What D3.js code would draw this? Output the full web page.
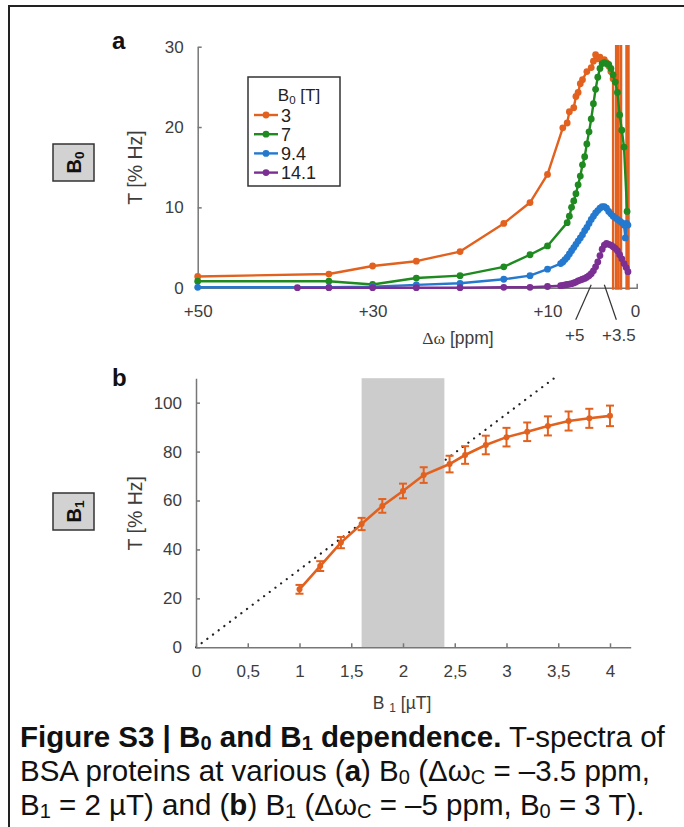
<!DOCTYPE html>
<html>
<head>
<meta charset="utf-8">
<script src="https://cdn.jsdelivr.net/npm/d3@7"></script>
<style>
  body { margin: 0; background: #fff; }
  svg { display: block; font-family: "Liberation Sans", Arial, sans-serif; }
</style>
</head>
<body>
<div id="chart"></div>
<script>
// ---- panel a : T-spectra at different B0 ----
const b0Labels = ["3", "7", "9.4", "14.1"];
const b0Colors = ["#e3611e", "#1f8a1f", "#2479cf", "#7b2f93"];

const shift3T = [50, 35, 30, 25, 20, 15, 12, 10, 8.25, 7.75, 7.5, 7.0, 6.75, 6.5, 6.25, 6.0, 5.5, 5.0, 4.75, 4.5,
                 4.25, 4.0, 3.75, 3.5, 3.25, 3.0, 2.75, 2.5, 2.4, 1.92, 1.84, 1.34, 0.58, 0.88];
const t3T = [1.4, 1.7, 2.7, 3.3, 4.5, 8.0, 10.6, 14.1, 19.9, 20.5, 21.9, 22.4, 23.8, 24.3, 25.4, 25.9, 26.9, 27.4, 28.2, 29.0,
             28.5, 28.7, 28.2, 28.4, 28.0, 27.6, 26.9, 26.0, -1000, 1000, -1000, 1000, -1000, 1000];

const shift7T = [50, 35, 30, 25, 20, 15, 12, 10, 7.75, 7.5, 7.25, 7.0, 6.75, 6.5, 6.25, 6.0, 5.75, 5.5, 5.25, 5.0,
                 4.75, 4.5, 4.25, 4.0, 3.75, 3.5, 3.25, 3.0, 2.75, 2.5, 2.25, 2.0, 1.75, 1.5, 1.25, 0.9];
const t7T = [0.8, 0.8, 0.4, 1.2, 1.5, 2.6, 4.1, 5.2, 8.1, 8.9, 10.0, 10.8, 11.7, 12.8, 13.9, 15.3, 16.3, 17.9, 19.4, 21.0,
             22.9, 24.7, 26.2, 27.3, 27.9, 28.0, 27.9, 27.8, 27.3, 26.5, 25.6, 24.3, 21.5, 19.6, 17.5, 9.5];

const shift94T = [50, 35, 30, 25, 20, 15, 12, 10, 8.5, 8.25, 8.0, 7.75, 7.5, 7.25, 7.0, 6.75, 6.5, 6.25, 6.0, 5.75,
                  5.5, 5.25, 5.0, 4.75, 4.5, 4.25, 4.0, 3.75, 3.5, 3.25, 3.0, 2.75, 2.5, 2.25, 2.0, 1.75, 1.5, 1.25,
                  1.1, 0.95, 0.8];
const t94T = [0.05, 0.05, 0.12, 0.35, 0.55, 1.05, 1.5, 2.3, 3.0, 3.2, 3.5, 3.8, 4.2, 4.6, 5.0, 5.4, 5.8, 6.2, 6.6, 7.1,
              7.5, 8.0, 8.5, 8.9, 9.3, 9.6, 9.9, 10.1, 10.1, 9.9, 9.5, 9.2, 8.9, 8.7, 8.5, 8.3, 8.1, 7.8,
              6.2, 8.0, 7.8];

const shift141T = [38.6, 35, 30, 25, 20, 15, 12, 10, 8.5, 8.25, 8.0, 7.75, 7.5, 7.25, 7.0, 6.75, 6.5, 6.25, 6.0, 5.75,
                   5.5, 5.25, 5.0, 4.75, 4.5, 4.25, 4.0, 3.75, 3.5, 3.25, 3.0, 2.75, 2.5, 2.25, 2.0, 1.75, 1.5, 1.25,
                   1.0, 0.8];
const t141T = [0, 0, 0, 0, 0, 0.05, 0.05, 0.15, 0.25, 0.3, 0.35, 0.4, 0.45, 0.5, 0.6, 0.7, 0.85, 0.95, 1.05, 1.15,
               1.3, 1.5, 1.75, 2.1, 2.6, 3.2, 4.0, 4.8, 5.3, 5.5, 5.4, 5.3, 5.1, 4.9, 4.6, 4.1, 3.6, 3.0,
               2.5, 2.0];

const shiftTicks = [50, 30, 10, 0];
const calloutShifts = [5, 3.5];
const tTicksA = [0, 10, 20, 30];

// ---- panel b : T vs B1 ----
const b1Values = [1.0, 1.2, 1.4, 1.6, 1.8, 2.0, 2.2, 2.45, 2.6, 2.8, 3.0, 3.2, 3.4, 3.6, 3.8, 4.0];
const tB1 = [23.7, 33.2, 42.8, 50.4, 57.8, 63.9, 70.4, 74.9, 78.6, 82.7, 85.9, 88.1, 90.5, 92.5, 93.6, 94.6];
const errB1 = [1.8, 2.0, 2.3, 2.5, 2.8, 3.0, 3.2, 3.4, 3.6, 3.8, 3.8, 3.8, 3.9, 3.9, 3.9, 4.2];
const refB1 = [0, 3.46];
const refT = [0, 110];
const bandB1 = [1.6, 2.4];
const b1Ticks = [0, 0.5, 1, 1.5, 2, 2.5, 3, 3.5, 4];
const tTicksB = [0, 20, 40, 60, 80, 100];

const width = 684, height = 827;
const orange = b0Colors[0];
const tickColor = "#3d3d3d", axisColor = "#777";

const svg = d3.select("#chart").append("svg")
    .attr("width", width)
    .attr("height", height);

// figure frame (cropped at right and bottom)
svg.append("path")
    .attr("d", `M9,${height} V6 H${width}`)
    .attr("fill", "none")
    .attr("stroke", "#222")
    .attr("stroke-width", 2);

// rich text helper for sub-scripts / bold runs
function runs(sel, parts, size, drop = 0.18) {
    let shifted = false;
    parts.forEach(p => {
        const ts = sel.append("tspan").text(p.t);
        if (p.b) ts.attr("font-weight", "bold");
        if (p.f) ts.attr("font-family", p.f);
        if (p.sub && !shifted) { ts.attr("dy", size * drop).attr("font-size", size * 0.68); shifted = true; }
        else if (p.sub) ts.attr("font-size", size * 0.68);
        else if (shifted) { ts.attr("dy", -size * drop); shifted = false; }
    });
}

function boxLabel(cy, sub) {
    svg.append("rect")
        .attr("x", 53).attr("y", cy - 18.5)
        .attr("width", 41).attr("height", 37)
        .attr("fill", "#d2d2d2")
        .attr("stroke", "#333")
        .attr("stroke-width", 1.5);
    const t = svg.append("text")
        .attr("transform", `translate(80.5,${cy}) rotate(-90)`)
        .attr("text-anchor", "middle")
        .attr("font-size", 20)
        .attr("font-weight", "bold")
        .attr("fill", "#111");
    runs(t, [{ t: "B", b: true }, { t: sub, b: true, sub: true }], 20);
}

function styleAxis(g) {
    g.select(".domain").attr("stroke", axisColor).attr("stroke-width", 1.5);
    g.selectAll(".tick line").attr("stroke", axisColor).attr("stroke-width", 1.5);
    g.selectAll(".tick text").attr("fill", tickColor).attr("font-size", 17)
        .attr("font-family", "\"Liberation Sans\", Arial, sans-serif");
}

// ================= panel a =================
const xA = d3.scaleLinear().domain([50, -0.2]).range([197.7, 636.7]);
const yA = d3.scaleLinear().domain([0, 30]).range([287.7, 46.7]);

svg.append("text").attr("x", 112).attr("y", 49)
    .attr("font-size", 24).attr("font-weight", "bold").attr("fill", "#111").text("a");
boxLabel(162.5, "0");

svg.append("g")
    .attr("transform", `translate(0,${yA(0)})`)
    .call(d3.axisBottom(xA).tickValues(shiftTicks)
        .tickFormat(d => d > 0 ? "+" + d : "0")
        .tickSizeInner(0).tickSizeOuter(-4).tickPadding(17.5))
    .call(styleAxis);

svg.append("g")
    .attr("transform", `translate(${xA(50)},0)`)
    .call(d3.axisLeft(yA).tickValues(tTicksA).tickSizeInner(-4).tickSizeOuter(0).tickPadding(14))
    .call(styleAxis);

svg.append("text")
    .attr("transform", "translate(142,167.5) rotate(-90)")
    .attr("text-anchor", "middle").attr("font-size", 19.5).attr("fill", tickColor)
    .text("T [% Hz]");

const xTitleA = svg.append("text").attr("x", 458).attr("y", 344)
    .attr("text-anchor", "middle").attr("font-size", 17.5).attr("fill", tickColor);
runs(xTitleA, [{ t: "\u0394\u03c9", f: "\"Liberation Serif\", serif" }, { t: " [ppm]" }], 17.5);

// callouts for +5 and +3.5
calloutShifts.forEach((s, i) => {
    const x0 = xA(s), dir = i === 0 ? -1 : 1;
    svg.append("line")
        .attr("x1", x0).attr("y1", yA(0) - 3)
        .attr("x2", x0 + dir * (i === 0 ? 15.5 : 12)).attr("y2", yA(0) + 32)
        .attr("stroke", "#333").attr("stroke-width", 1.2);
    svg.append("text")
        .attr("x", x0 + dir * (i === 0 ? 16.5 : 14.5)).attr("y", 341)
        .attr("text-anchor", "middle").attr("font-size", 17).attr("fill", tickColor)
        .text("+" + s);
});

svg.append("defs").append("clipPath").attr("id", "clipA")
    .append("rect")
    .attr("x", xA(50)).attr("y", yA(30.2))
    .attr("width", xA(-0.2) - xA(50) + 4)
    .attr("height", yA(0) - yA(30.2) + 2);

const seriesA = [
    d3.zip(shift3T, t3T),
    d3.zip(shift7T, t7T),
    d3.zip(shift94T, t94T),
    d3.zip(shift141T, t141T)
];
const lineA = d3.line().x(d => xA(d[0])).y(d => yA(d[1]));

seriesA.forEach((pts, i) => {
    const g = svg.append("g");
    g.append("path")
        .attr("d", lineA(pts))
        .attr("clip-path", "url(#clipA)")
        .attr("fill", "none")
        .attr("stroke", b0Colors[i])
        .attr("stroke-width", 2.4)
        .attr("stroke-linejoin", "round");
    g.selectAll("circle")
        .data(pts.filter(d => d[1] >= -0.5 && d[1] <= 30.5))
        .join("circle")
        .attr("cx", d => xA(d[0]))
        .attr("cy", d => yA(d[1]))
        .attr("r", 3.4)
        .attr("fill", b0Colors[i]);
});

// legend
const leg = svg.append("g");
leg.append("rect")
    .attr("x", 248).attr("y", 77).attr("width", 92).attr("height", 109)
    .attr("fill", "#fff").attr("stroke", "#333").attr("stroke-width", 1.5);
const legTitle = leg.append("text").attr("x", 299).attr("y", 101)
    .attr("text-anchor", "middle").attr("font-size", 17).attr("fill", "#222");
runs(legTitle, [{ t: "B" }, { t: "0", sub: true }, { t: " [T]" }], 17);
b0Labels.forEach((lab, i) => {
    const cy = 115 + i * 19.2;
    leg.append("line").attr("x1", 254).attr("x2", 278).attr("y1", cy).attr("y2", cy)
        .attr("stroke", b0Colors[i]).attr("stroke-width", 2.4);
    leg.append("circle").attr("cx", 266).attr("cy", cy).attr("r", 3.4).attr("fill", b0Colors[i]);
    leg.append("text").attr("x", 281).attr("y", cy + 6.5)
        .attr("font-size", 18).attr("fill", "#222").text(lab);
});

// ================= panel b =================
const xB = d3.scaleLinear().domain([0, 4.2]).range([196, 630.7]);
const yB = d3.scaleLinear().domain([0, 110]).range([647.3, 378.2]);

svg.append("text").attr("x", 112).attr("y", 386)
    .attr("font-size", 24).attr("font-weight", "bold").attr("fill", "#111").text("b");
boxLabel(511.5, "1");

// reference line (dotted)
svg.append("line")
    .attr("x1", xB(refB1[0])).attr("y1", yB(refT[0]))
    .attr("x2", xB(refB1[1])).attr("y2", yB(refT[1]))
    .attr("stroke", "#222").attr("stroke-width", 2.2)
    .attr("stroke-linecap", "round")
    .attr("stroke-dasharray", "0.1 7")
    .attr("stroke-dashoffset", -7);

// shaded B1 range
svg.append("rect")
    .attr("x", xB(bandB1[0])).attr("y", yB(110))
    .attr("width", xB(bandB1[1]) - xB(bandB1[0]))
    .attr("height", yB(0) - yB(110))
    .attr("fill", "#cccccc");

svg.append("g")
    .attr("transform", `translate(0,${yB(0)})`)
    .call(d3.axisBottom(xB).tickValues(b1Ticks)
        .tickFormat(d => String(d).replace(".", ","))
        .tickSizeInner(-4).tickSizeOuter(0).tickPadding(17.5))
    .call(styleAxis);

svg.append("g")
    .attr("transform", `translate(${xB(0)},0)`)
    .call(d3.axisLeft(yB).tickValues(tTicksB).tickSizeInner(-4).tickSizeOuter(0).tickPadding(14))
    .call(styleAxis);

svg.append("text")
    .attr("transform", "translate(142,513.3) rotate(-90)")
    .attr("text-anchor", "middle").attr("font-size", 19.5).attr("fill", tickColor)
    .text("T [% Hz]");

const xTitleB = svg.append("text").attr("x", 402).attr("y", 709)
    .attr("text-anchor", "middle").attr("font-size", 17.5).attr("fill", tickColor);
runs(xTitleB, [{ t: "B " }, { t: "1", sub: true }, { t: " [\u00b5T]" }], 17.5);

const ptsB = b1Values.map((b, i) => ({ b, t: tB1[i], e: errB1[i] }));
svg.append("path")
    .attr("d", d3.line().x(d => xB(d.b)).y(d => yB(d.t))(ptsB))
    .attr("fill", "none").attr("stroke", orange).attr("stroke-width", 2.6);

const eb = svg.append("g").attr("stroke", orange).attr("stroke-width", 2);
eb.selectAll(".v").data(ptsB).join("line")
    .attr("x1", d => xB(d.b)).attr("x2", d => xB(d.b))
    .attr("y1", d => yB(d.t - d.e)).attr("y2", d => yB(d.t + d.e));
eb.selectAll(".lo").data(ptsB).join("line")
    .attr("x1", d => xB(d.b) - 4).attr("x2", d => xB(d.b) + 4)
    .attr("y1", d => yB(d.t - d.e)).attr("y2", d => yB(d.t - d.e));
eb.selectAll(".hi").data(ptsB).join("line")
    .attr("x1", d => xB(d.b) - 4).attr("x2", d => xB(d.b) + 4)
    .attr("y1", d => yB(d.t + d.e)).attr("y2", d => yB(d.t + d.e));
svg.append("g").selectAll("circle").data(ptsB).join("circle")
    .attr("cx", d => xB(d.b)).attr("cy", d => yB(d.t))
    .attr("r", 3).attr("fill", orange);

// ================= caption =================
const captionLines = [
    [{ t: "Figure S3 | B", b: true }, { t: "0", b: true, sub: true }, { t: " and B", b: true },
     { t: "1", b: true, sub: true }, { t: " dependence.", b: true }, { t: " T-spectra of" }],
    [{ t: "BSA proteins at various (" }, { t: "a", b: true }, { t: ") B" }, { t: "0", sub: true },
     { t: " (\u0394\u03c9" }, { t: "C", sub: true }, { t: " = \u20133.5 ppm," }],
    [{ t: "B" }, { t: "1", sub: true }, { t: " = 2 \u00b5T) and (" }, { t: "b", b: true }, { t: ") B" },
     { t: "1", sub: true }, { t: " (\u0394\u03c9" }, { t: "C", sub: true }, { t: " = \u20135 ppm, B" },
     { t: "0", sub: true }, { t: " = 3 T)." }]
];
// first caption line spans x = 20 .. 665 in the figure
let capSize = 25;
const probe = svg.append("text").attr("font-size", capSize);
runs(probe, captionLines[0], capSize, 0.1);
capSize = capSize * 645 / probe.node().getComputedTextLength();
probe.remove();

captionLines.forEach((parts, i) => {
    const t = svg.append("text").attr("x", 20).attr("y", 747 + i * 34)
        .attr("font-size", capSize).attr("fill", "#111");
    runs(t, parts, capSize, 0.1);
});
</script>
</body>
</html>
